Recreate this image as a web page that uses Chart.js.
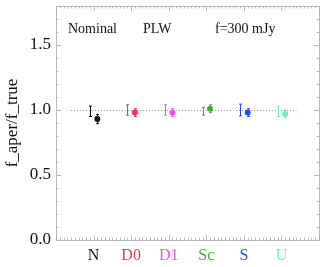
<!DOCTYPE html>
<html>
<head>
<meta charset="utf-8">
<script src="https://cdn.jsdelivr.net/npm/chart.js@4/dist/chart.umd.min.js"></script>
<style>
  html, body { margin: 0; padding: 0; background: #fff; }
  #wrap { width: 327px; height: 267px; }
</style>
</head>
<body>
<div id="wrap"><canvas id="chart"></canvas></div>
<script>
// categories along x (placed at 1..6)
const categories = ['N', 'D0', 'D1', 'Sc', 'S', 'U'];
const catColors = ['#111111', '#e8385a', '#f050e8', '#3cb034', '#2848f8', '#70f0b8'];

// open error bars (left of each category)
const barValues = [0.99, 1.00, 1.00, 0.99, 1.00, 0.99];
const barErrors = [0.04, 0.04, 0.04, 0.03, 0.045, 0.04];

// filled points (right of each category)
const pointValues = [0.93, 0.98, 0.98, 1.01, 0.98, 0.97];
const pointErrors = [0.035, 0.03, 0.03, 0.03, 0.03, 0.03];

const yTicks = [0.0, 0.5, 1.0, 1.5];
const refLine = [0.4, 6.4];

const serif = '"Liberation Serif", "DejaVu Serif", serif';
const frameColor = '#b8b8b8';

const barData = categories.map((c, i) => ({ x: i + 1 - 0.1, y: barValues[i], err: barErrors[i] }));
const pointData = categories.map((c, i) => ({ x: i + 1 + 0.1, y: pointValues[i], err: pointErrors[i] }));

// draws the vertical error bars with small caps
const errorBars = {
    id: 'errorBars',
    afterDatasetsDraw(chart) {
        const { ctx, scales: { x, y } } = chart;
        chart.data.datasets.forEach(ds => {
            if (!ds.errorBars) return;
            ds.data.forEach((p, i) => {
                const px = Math.round(x.getPixelForValue(p.x)) + 0.5;
                const top = y.getPixelForValue(p.y + p.err);
                const bot = y.getPixelForValue(p.y - p.err);
                ctx.save();
                ctx.strokeStyle = catColors[i];
                ctx.lineWidth = 1;
                ctx.beginPath();
                ctx.moveTo(px, top); ctx.lineTo(px, bot);
                ctx.moveTo(px - 1.5, top); ctx.lineTo(px + 1.5, top);
                ctx.moveTo(px - 1.5, bot); ctx.lineTo(px + 1.5, bot);
                ctx.stroke();
                ctx.restore();
            });
        });
    }
};

// IDL-like frame: inward major and minor ticks on all four sides
const frameTicks = {
    id: 'frameTicks',
    afterDraw(chart) {
        const { ctx, chartArea: a, scales: { x, y } } = chart;
        ctx.save();
        ctx.strokeStyle = frameColor;
        ctx.lineWidth = 1;
        ctx.strokeRect(Math.round(a.left) + 0.5, Math.round(a.top) + 0.5,
            Math.round(a.right - a.left), Math.round(a.bottom - a.top));
        ctx.beginPath();
        for (let k = 0; k <= 70; k++) {
            const v = k / 10;
            const px = Math.round(x.getPixelForValue(v)) + 0.5;
            const len = k % 10 === 0 ? 5 : 2.5;
            ctx.moveTo(px, a.bottom); ctx.lineTo(px, a.bottom - len);
            ctx.moveTo(px, a.top); ctx.lineTo(px, a.top + len);
        }
        for (let k = 0; k <= 18; k++) {
            const v = k / 10;
            const py = Math.round(y.getPixelForValue(v)) + 0.5;
            const len = k % 5 === 0 ? 5 : 2.5;
            ctx.moveTo(a.left, py); ctx.lineTo(a.left + len, py);
            ctx.moveTo(a.right, py); ctx.lineTo(a.right - len, py);
        }
        ctx.stroke();

        ctx.fillStyle = '#111';
        ctx.font = '14px ' + serif;
        ctx.textBaseline = 'middle';
        const ty = y.getPixelForValue(1.62);
        ctx.fillText('Nominal', 68, ty);
        ctx.fillText('PLW', 143, ty);
        ctx.fillText('f=300 mJy', 215, ty);
        ctx.restore();
    }
};

// dotted reference line at 1.0
const refLinePlugin = {
    id: 'refLine',
    beforeDatasetsDraw(chart) {
        const { ctx, scales: { x, y } } = chart;
        const py = Math.round(y.getPixelForValue(1.0)) + 0.5;
        ctx.save();
        ctx.strokeStyle = '#999';
        ctx.setLineDash([1, 2]);
        ctx.beginPath();
        ctx.moveTo(x.getPixelForValue(refLine[0]), py);
        ctx.lineTo(x.getPixelForValue(refLine[1]), py);
        ctx.stroke();
        ctx.restore();
    }
};

new Chart(document.getElementById('chart'), {
    type: 'scatter',
    data: {
        datasets: [
            {
                label: 'aperture',
                data: barData,
                errorBars: true,
                pointRadius: 0,
                showLine: false
            },
            {
                label: 'fit',
                data: pointData,
                errorBars: true,
                pointRadius: 3,
                pointBorderWidth: 0,
                pointBackgroundColor: catColors,
                showLine: false
            }
        ]
    },
    options: {
        responsive: true,
        maintainAspectRatio: false,
        animation: false,
        layout: { padding: { top: 6, right: 8, left: 0, bottom: 0 } },
        plugins: { legend: { display: false }, tooltip: { enabled: false } },
        scales: {
            x: {
                type: 'linear',
                min: 0,
                max: 7,
                grid: { display: false, drawTicks: false },
                border: { display: false },
                afterBuildTicks: s => { s.ticks = categories.map((c, i) => ({ value: i + 1 })); },
                afterFit: s => { s.height = 27; s.paddingLeft = 0; s.paddingRight = 0; },
                ticks: {
                    padding: 6,
                    font: { family: serif, size: 16 },
                    color: ctx => catColors[ctx.index] || '#111',
                    callback: v => categories[v - 1] || ''
                }
            },
            y: {
                min: 0,
                max: 1.8,
                grid: { display: false, drawTicks: false },
                border: { display: false },
                afterBuildTicks: s => { s.ticks = yTicks.map(v => ({ value: v })); },
                afterFit: s => { s.width = 56; s.paddingTop = 0; s.paddingBottom = 0; },
                title: {
                    display: true,
                    text: 'f_aper/f_true',
                    color: '#111',
                    font: { family: serif, size: 17 },
                    padding: { top: 2, bottom: 0 }
                },
                ticks: {
                    padding: 5,
                    color: '#111',
                    font: { family: serif, size: 17 },
                    callback: v => v.toFixed(1)
                }
            }
        }
    },
    plugins: [refLinePlugin, errorBars, frameTicks]
});
</script>
</body>
</html>
